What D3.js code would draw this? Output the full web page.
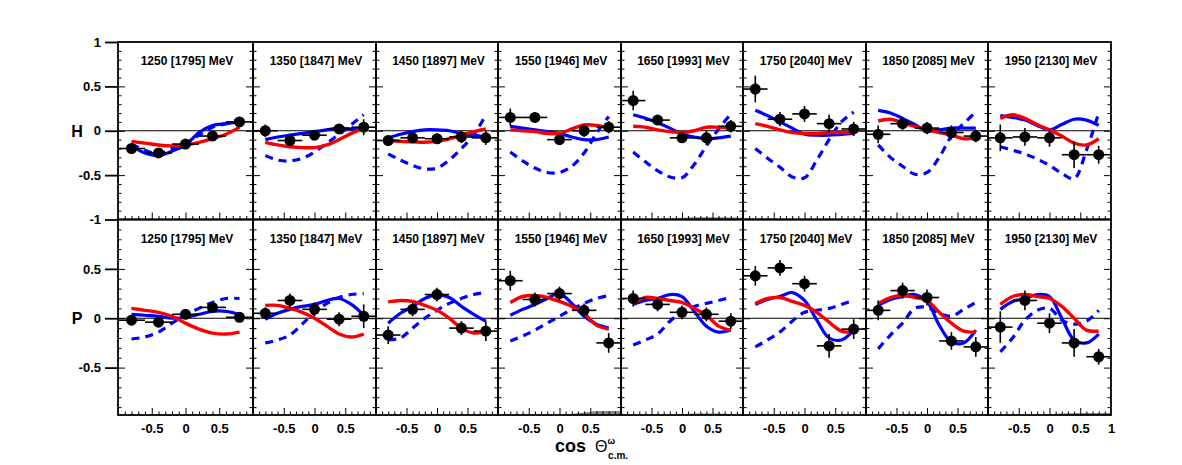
<!DOCTYPE html>
<html>
<head>
<meta charset="utf-8">
<script src="https://cdn.jsdelivr.net/npm/d3@7"></script>
<style>
body { margin: 0; background: #fff; }
text { font-family: "Liberation Sans", Arial, sans-serif; }
</style>
</head>
<body>
<svg id="chart" width="1182" height="465"></svg>
<script>
// bin centres of the data and the points the model curves were read at
const cosPts = [-0.8, -0.4, 0, 0.4, 0.8];
const curveCos = [-0.8, -0.6, -0.4, -0.2, 0, 0.2, 0.4, 0.6, 0.8];
const sysCos = [-1, -0.6, -0.2, 0.2, 0.6, 1];
const xErr = 0.2;

const energies = ["1250 [1795] MeV", "1350 [1847] MeV", "1450 [1897] MeV", "1550 [1946] MeV",
                  "1650 [1993] MeV", "1750 [2040] MeV", "1850 [2085] MeV", "1950 [2130] MeV"];
const xTicks = [-0.5, 0, 0.5];
const yTicksH = [-1, -0.5, 0, 0.5, 1];
const yTicksP = [-0.5, 0, 0.5];

// H
const hData = [
    [-0.20, -0.25, -0.15, -0.06, 0.10],
    [0.00, -0.11, -0.05, 0.02, 0.04],
    [-0.11, -0.08, -0.09, -0.07, -0.08],
    [0.15, 0.15, -0.10, 0.00, 0.04],
    [0.34, 0.12, -0.08, -0.08, 0.05],
    [0.47, 0.13, 0.19, 0.08, 0.02],
    [-0.04, 0.08, 0.03, -0.02, -0.06],
    [-0.08, -0.07, -0.08, -0.27, -0.27]
];
const hErr = [
    [0.03, 0.03, 0.03, 0.03, 0.04],
    [0.07, 0.05, 0.05, 0.05, 0.09],
    [0.06, 0.05, 0.06, 0.07, 0.08],
    [0.10, 0.06, 0.06, 0.07, 0.07],
    [0.11, 0.05, 0.05, 0.08, 0.07],
    [0.15, 0.08, 0.09, 0.10, 0.08],
    [0.10, 0.07, 0.07, 0.08, 0.07],
    [0.15, 0.10, 0.10, 0.15, 0.10]
];
const hRed = [
    [-0.12, -0.14, -0.16, -0.17, -0.16, -0.13, -0.09, -0.04, 0.04],
    [-0.13, -0.16, -0.18, -0.19, -0.19, -0.16, -0.10, -0.03, 0.03],
    [-0.11, -0.12, -0.125, -0.13, -0.12, -0.09, -0.05, -0.01, 0.02],
    [0.01, 0.00, -0.01, -0.03, -0.03, 0.02, 0.065, 0.06, 0.03],
    [0.05, 0.04, 0.01, -0.01, -0.02, 0.00, 0.04, 0.04, 0.03],
    [0.08, 0.05, 0.01, -0.02, -0.03, -0.03, -0.02, -0.02, -0.02],
    [0.11, 0.13, 0.09, 0.05, 0.01, -0.02, -0.05, -0.09, -0.08],
    [0.14, 0.18, 0.14, 0.07, 0.01, -0.06, -0.14, -0.16, -0.09]
];
const hBlue = [
    [-0.17, -0.25, -0.28, -0.23, -0.16, -0.02, 0.06, 0.08, 0.10],
    [-0.10, -0.07, -0.05, -0.03, -0.01, 0.01, 0.03, 0.02, 0.01],
    [-0.08, -0.04, -0.01, 0.01, 0.01, 0.00, -0.03, -0.05, -0.07],
    [0.05, 0.03, 0.01, -0.01, -0.03, -0.07, -0.10, -0.10, -0.07],
    [0.18, 0.14, 0.09, 0.03, -0.04, -0.07, -0.09, -0.08, -0.06],
    [0.23, 0.17, 0.10, 0.03, -0.04, -0.05, -0.05, -0.04, -0.03],
    [0.23, 0.20, 0.14, 0.07, 0.00, 0.01, 0.03, 0.03, 0.03],
    [0.17, 0.15, 0.12, 0.06, 0.01, 0.07, 0.13, 0.12, 0.06]
];
const hDash = [
    [-0.15, -0.22, -0.26, -0.20, -0.14, -0.05, 0.04, 0.08, 0.13],
    [-0.28, -0.33, -0.34, -0.31, -0.24, -0.14, -0.04, 0.07, 0.18],
    [-0.26, -0.33, -0.39, -0.43, -0.42, -0.33, -0.20, -0.05, 0.18],
    [-0.24, -0.34, -0.42, -0.47, -0.47, -0.40, -0.25, -0.03, 0.16],
    [-0.24, -0.35, -0.45, -0.52, -0.53, -0.38, -0.17, 0.02, 0.19],
    [-0.20, -0.31, -0.41, -0.52, -0.53, -0.33, -0.10, 0.10, 0.21],
    [-0.16, -0.30, -0.40, -0.49, -0.47, -0.30, -0.06, 0.08, 0.21],
    [-0.18, -0.22, -0.26, -0.32, -0.39, -0.48, -0.54, -0.22, 0.20]
];
const hSys = [
    [0, 0, 0, 0, 0, 0],
    [0, 0, 0, 0, 0, 0],
    [0, 0, 0, 0, 0, 0],
    [0, 0, 0, 0, 0, 0],
    [0, 0, 0.01, 0.025, 0.025, 0.02],
    [0.015, 0.01, 0.005, 0.005, 0.005, 0.005],
    [0, 0, 0, 0, 0, 0],
    [0, 0, 0, 0, 0.005, 0.01]
];

// P
const pData = [
    [-0.02, -0.04, 0.04, 0.11, 0.01],
    [0.05, 0.18, 0.09, -0.01, 0.02],
    [-0.17, 0.09, 0.24, -0.10, -0.13],
    [0.38, 0.19, 0.25, 0.08, -0.25],
    [0.20, 0.14, 0.06, 0.04, -0.03],
    [0.43, 0.51, 0.35, -0.28, -0.11],
    [0.08, 0.28, 0.21, -0.23, -0.29],
    [-0.09, 0.18, -0.05, -0.25, -0.39]
];
const pErr = [
    [0.03, 0.03, 0.03, 0.04, 0.04],
    [0.06, 0.07, 0.07, 0.07, 0.12],
    [0.09, 0.07, 0.07, 0.07, 0.10],
    [0.10, 0.07, 0.07, 0.07, 0.10],
    [0.08, 0.07, 0.07, 0.07, 0.08],
    [0.10, 0.08, 0.08, 0.12, 0.10],
    [0.10, 0.08, 0.08, 0.09, 0.10],
    [0.16, 0.10, 0.10, 0.14, 0.08]
];
const pRed = [
    [0.10, 0.08, 0.06, 0.02, -0.05, -0.11, -0.15, -0.16, -0.14],
    [0.13, 0.13, 0.10, 0.06, 0.00, -0.08, -0.16, -0.19, -0.16],
    [0.165, 0.18, 0.17, 0.13, 0.08, 0.00, -0.10, -0.15, -0.13],
    [0.16, 0.22, 0.23, 0.21, 0.17, 0.12, 0.05, -0.07, -0.11],
    [0.15, 0.21, 0.20, 0.18, 0.16, 0.10, 0.03, -0.08, -0.12],
    [0.15, 0.20, 0.21, 0.17, 0.13, 0.06, -0.04, -0.13, -0.14],
    [0.15, 0.21, 0.23, 0.21, 0.18, 0.06, -0.05, -0.13, -0.14],
    [0.14, 0.22, 0.24, 0.22, 0.20, 0.12, 0.00, -0.12, -0.13]
];
const pBlue = [
    [0.04, 0.03, 0.02, 0.00, 0.01, 0.04, 0.07, 0.07, 0.04],
    [-0.01, 0.05, 0.09, 0.12, 0.14, 0.18, 0.20, 0.14, 0.03],
    [-0.05, 0.05, 0.12, 0.20, 0.24, 0.21, 0.12, 0.04, -0.03],
    [0.03, 0.09, 0.14, 0.20, 0.25, 0.15, 0.02, -0.06, -0.10],
    [0.14, 0.18, 0.20, 0.24, 0.22, 0.07, -0.08, -0.14, -0.12],
    [0.14, 0.19, 0.22, 0.26, 0.18, -0.02, -0.20, -0.22, -0.12],
    [0.13, 0.19, 0.22, 0.24, 0.17, -0.07, -0.24, -0.25, -0.12],
    [0.09, 0.17, 0.20, 0.24, 0.22, 0.00, -0.22, -0.25, -0.16]
];
const pDash = [
    [-0.21, -0.19, -0.14, -0.05, 0.03, 0.10, 0.16, 0.20, 0.20],
    [-0.25, -0.22, -0.17, -0.06, 0.06, 0.15, 0.21, 0.24, 0.25],
    [-0.22, -0.20, -0.10, 0.00, 0.08, 0.15, 0.20, 0.24, 0.26],
    [-0.23, -0.18, -0.12, -0.05, 0.02, 0.09, 0.15, 0.20, 0.23],
    [-0.27, -0.22, -0.16, -0.03, 0.06, 0.12, 0.15, 0.18, 0.21],
    [-0.29, -0.22, -0.14, -0.03, 0.06, 0.08, 0.10, 0.14, 0.18],
    [-0.31, -0.17, -0.05, 0.10, 0.11, 0.05, 0.02, 0.09, 0.16],
    [-0.34, -0.20, -0.02, 0.08, 0.10, -0.02, -0.06, -0.03, 0.08]
];
const pSys = [
    [0, 0, 0, 0, 0, 0],
    [0, 0, 0, 0, 0, 0],
    [0, 0, 0, 0, 0, 0],
    [0, 0, 0, 0.01, 0.04, 0.04],
    [0, 0, 0, 0.015, 0.015, 0.005],
    [0, 0, 0, 0, 0, 0],
    [0, 0, 0, 0, 0, 0],
    [0, 0, 0, 0.015, 0.02, 0.02]
];

// layout
const panelEdges = [118, 253, 376, 498, 621, 743, 866, 988, 1111];
const rows = [
    { name: "H", top: 42, bottom: 219.5, domain: [-1, 1], data: hData, err: hErr,
      red: hRed, blue: hBlue, dash: hDash, sys: hSys, yTicks: yTicksH },
    { name: "P", top: 219.5, bottom: 415, domain: [-0.98, 1], data: pData, err: pErr,
      red: pRed, blue: pBlue, dash: pDash, sys: pSys, yTicks: yTicksP }
];

const svg = d3.select("#chart");

function drawPanel(row, ri, i) {
    const x = d3.scaleLinear().domain([-1, 1]).range([panelEdges[i], panelEdges[i + 1]]);
    const y = d3.scaleLinear().domain(row.domain).range([row.bottom, row.top]);
    const g = svg.append("g");

    // systematic band
    const sysPts = sysCos.map((c, k) => [c, row.sys[i][k]]);
    g.append("path")
        .datum(sysPts)
        .attr("fill", "#888")
        .attr("d", d3.area().x(d => x(d[0])).y0(y(row.domain[0])).y1(d => y(row.domain[0] + d[1])));

    // zero line
    g.append("line")
        .attr("x1", x(-1)).attr("x2", x(1))
        .attr("y1", y(0)).attr("y2", y(0))
        .attr("stroke", "#000").attr("stroke-width", 1.2);

    const line = d3.line()
        .x(d => x(d[0])).y(d => y(d[1]))
        .curve(d3.curveCatmullRom.alpha(0.5));
    const pts = arr => curveCos.map((c, k) => [c, arr[k]]);

    g.append("path").attr("d", line(pts(row.dash[i])))
        .attr("fill", "none").attr("stroke", "#0000ff").attr("stroke-width", 3.2)
        .attr("stroke-dasharray", "8,6");
    g.append("path").attr("d", line(pts(row.blue[i])))
        .attr("fill", "none").attr("stroke", "#0000ff").attr("stroke-width", 3.2);
    g.append("path").attr("d", line(pts(row.red[i])))
        .attr("fill", "none").attr("stroke", "#ff0000").attr("stroke-width", 3.4);
    // the red model is drawn with a faint dotted texture in the original
    g.append("path").attr("d", line(pts(row.red[i])))
        .attr("fill", "none").attr("stroke", "#a00000").attr("stroke-width", 1)
        .attr("stroke-dasharray", "1,2").attr("opacity", 0.6);

    // data points with errors
    const points = cosPts.map((c, k) => ({ c: c, v: row.data[i][k], e: row.err[i][k] }));
    const pg = g.append("g");
    pg.selectAll(".ex").data(points).enter().append("line")
        .attr("x1", d => x(d.c - xErr)).attr("x2", d => x(d.c + xErr))
        .attr("y1", d => y(d.v)).attr("y2", d => y(d.v))
        .attr("stroke", "#000").attr("stroke-width", 1.6);
    pg.selectAll(".ey").data(points).enter().append("line")
        .attr("x1", d => x(d.c)).attr("x2", d => x(d.c))
        .attr("y1", d => y(d.v - d.e)).attr("y2", d => y(d.v + d.e))
        .attr("stroke", "#000").attr("stroke-width", 1.6);
    pg.selectAll("circle").data(points).enter().append("circle")
        .attr("cx", d => x(d.c)).attr("cy", d => y(d.v)).attr("r", 5.5)
        .attr("fill", "#000");

    // ticks
    const minorX = d3.range(-9, 10).map(k => k / 10).filter(v => xTicks.indexOf(v) < 0);
    const minorY = d3.range(-10, 11).map(k => k / 10)
        .filter(v => v >= row.domain[0] && v <= row.domain[1] && v % 0.5 !== 0);
    const majorY = [-0.5, 0, 0.5];

    const tk = (sel) => { sel.select(".domain").remove(); sel.selectAll("text").remove();
        sel.selectAll("line").attr("stroke", "#000").attr("stroke-width", 1); };

    g.append("g").attr("transform", `translate(0,${row.bottom})`)
        .call(d3.axisBottom(x).tickValues(xTicks).tickSize(-7)).call(tk);
    g.append("g").attr("transform", `translate(0,${row.bottom})`)
        .call(d3.axisBottom(x).tickValues(minorX).tickSize(-3.5)).call(tk);
    g.append("g").attr("transform", `translate(${x(-1)},0)`)
        .call(d3.axisRight(y).tickValues(majorY).tickSize(7)).call(tk);
    g.append("g").attr("transform", `translate(${x(-1)},0)`)
        .call(d3.axisRight(y).tickValues(minorY).tickSize(3.5)).call(tk);
    g.append("g").attr("transform", `translate(${x(1)},0)`)
        .call(d3.axisLeft(y).tickValues(majorY).tickSize(7)).call(tk);
    g.append("g").attr("transform", `translate(${x(1)},0)`)
        .call(d3.axisLeft(y).tickValues(minorY).tickSize(3.5)).call(tk);

    // frame
    g.append("rect")
        .attr("x", x(-1)).attr("y", row.top)
        .attr("width", x(1) - x(-1)).attr("height", row.bottom - row.top)
        .attr("fill", "none").attr("stroke", "#000").attr("stroke-width", 1.8);

    // panel title
    g.append("text")
        .attr("x", (x(-1) + x(1)) / 2 + 1.5).attr("y", row.top + 23)
        .attr("text-anchor", "middle")
        .attr("font-size", 12).attr("font-weight", "bold")
        .text(energies[i]);

    // x labels on the lower row
    if (ri === 1) {
        const vals = i === 7 ? xTicks.concat([1]) : xTicks;
        const ax = g.append("g").attr("transform", `translate(0,${row.bottom})`)
            .call(d3.axisBottom(x).tickValues(vals).tickSize(0).tickPadding(9)
                .tickFormat(d => String(d)));
        ax.select(".domain").remove();
        ax.selectAll("text").attr("font-size", 13).attr("font-weight", "bold")
            .attr("fill", "#000").attr("font-family", "Liberation Sans, Arial, sans-serif");
    }

    // y labels on the first column
    if (i === 0) {
        const ay = g.append("g").attr("transform", `translate(${x(-1)},0)`)
            .call(d3.axisLeft(y).tickValues(row.yTicks).tickSize(13).tickPadding(4)
                .tickFormat(d => String(d)));
        ay.select(".domain").remove();
        ay.selectAll("line").attr("stroke", "#000").attr("stroke-width", 1.8);
        ay.selectAll("text").attr("font-size", 13).attr("font-weight", "bold")
            .attr("fill", "#000").attr("font-family", "Liberation Sans, Arial, sans-serif");

        svg.append("text")
            .attr("x", 77).attr("y", y(0) + 6)
            .attr("text-anchor", "middle")
            .attr("font-size", 16).attr("font-weight", "bold")
            .text(row.name);
    }
}

rows.forEach((row, ri) => {
    for (let i = 0; i < 8; i++) drawPanel(row, ri, i);
});

// x axis title
const title = svg.append("text").attr("x", 555).attr("y", 452);
title.append("tspan").attr("font-size", 18).attr("font-weight", "bold").text("cos");
title.append("tspan").attr("dx", 9).attr("font-size", 16).text("Θ");
title.append("tspan").attr("dx", 0).attr("dy", -8).attr("font-size", 9).attr("font-weight", "bold").text("ω");
title.append("tspan").attr("dx", -7).attr("dy", 15).attr("font-size", 10).attr("font-weight", "bold").text("c.m.");
</script>
</body>
</html>
